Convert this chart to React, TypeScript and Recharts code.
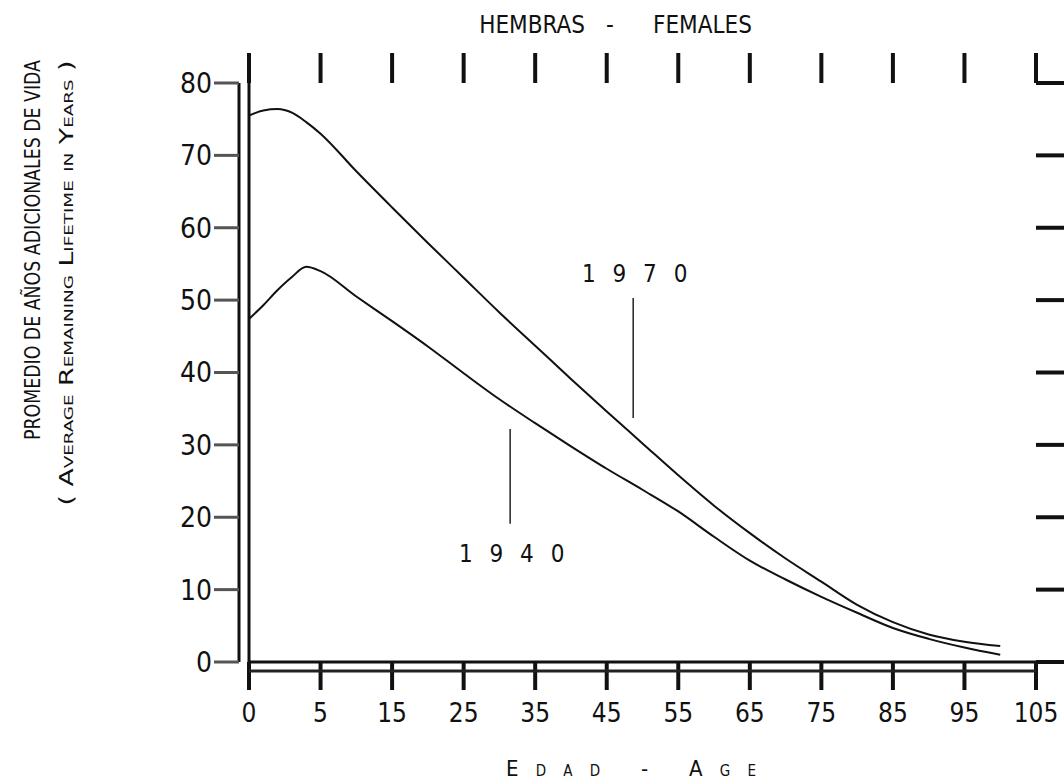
import { LineChart, Line, XAxis, YAxis, ReferenceLine, Customized } from 'recharts'

// edad (años) y promedio de años adicionales de vida, hembras
const ages = [0, 1, 2, 3, 4, 5, 10, 15, 20, 25, 30, 35, 40, 45, 50, 55, 60, 65, 70, 75, 80, 85, 90, 95, 100]
const females1970 = [75.5, 76.2, 76.4, 75.9, 74.6, 73.0, 67.8, 62.8, 57.9, 53.1, 48.3, 43.7, 39.1, 34.6, 30.2, 25.8, 21.6, 17.8, 14.3, 11.1, 7.9, 5.5, 3.8, 2.8, 2.2]
const females1940 = [47.4, 49.3, 51.4, 53.2, 54.6, 54.0, 50.5, 47.1, 43.6, 39.9, 36.3, 33.0, 29.8, 26.7, 23.8, 20.8, 17.3, 14.0, 11.4, 9.0, 6.8, 4.7, 3.2, 2.0, 1.0]

const ageTicks = [0, 5, 15, 25, 35, 45, 55, 65, 75, 85, 95, 105]
const valueTicks = [0, 10, 20, 30, 40, 50, 60, 70, 80]

// leader lines for the year labels: [age, value top, value bottom]
const leader1970 = [48.7, 50.3, 33.7]
const leader1940 = [31.5, 32.2, 19.1]

// the age axis gives 0-5 the same width as each 10-year step
const agePos = (age: number) => (age <= 5 ? age / 5 : 1 + (age - 5) / 10)

const tickPos = ageTicks.map(agePos)
const data = ages.map((a, i) => ({ pos: agePos(a), y1970: females1970[i], y1940: females1940[i] }))

const FONT = '"DejaVu Sans Condensed", "DejaVu Sans", sans-serif'

const YearLabel = ({ viewBox, text, above }: any) => {
  const { x, y, height } = viewBox
  return (
    <text x={x + 4} y={above ? y - 16 : y + height + 38} textAnchor="middle"
      fontFamily={FONT} fontSize={24} fill="#111" letterSpacing={5}>{text}</text>
  )
}

const Titles = () => (
  <g fontFamily={FONT} fill="#111">
    <text x={585} y={33} fontSize={24} textAnchor="end">HEMBRAS</text>
    <text x={610} y={33} fontSize={24} textAnchor="middle">-</text>
    <text x={653} y={33} fontSize={24}>FEMALES</text>
    <text transform="translate(40,250) rotate(-90)" fontSize={21} textAnchor="middle"
      textLength={380} lengthAdjust="spacingAndGlyphs">PROMEDIO DE AÑOS ADICIONALES DE VIDA</text>
    <text transform="translate(73,283) rotate(-90)" fontSize={19} textAnchor="middle"
      style={{ fontVariant: 'small-caps' }} textLength={445} lengthAdjust="spacingAndGlyphs">
      ( Average Remaining Lifetime in Years )
    </text>
    <text x={631} y={776} fontSize={22} textAnchor="middle" style={{ fontVariant: 'small-caps' }}
      textLength={250} lengthAdjust="spacing">Edad - Age</text>
  </g>
)

export default function App() {
  return (
    <div style={{ position: 'absolute', left: 0, top: 0, width: 1064, height: 780, background: '#fff' }}>
      <LineChart width={1064} height={780} data={data} margin={{ top: 53, right: 0, bottom: 108, left: 0 }}>
        <XAxis xAxisId="age" dataKey="pos" type="number" domain={[0, 11]} ticks={tickPos} interval={0}
          height={9} tickSize={28} tickMargin={14}
          axisLine={{ stroke: '#111', strokeWidth: 3 }} tickLine={{ stroke: '#111', strokeWidth: 4 }}
          tick={{ fontSize: 26, fill: '#111', fontFamily: FONT }}
          tickFormatter={(v: number) => String(ageTicks[tickPos.indexOf(v)])} />
        <XAxis xAxisId="age2" dataKey="pos" type="number" domain={[0, 11]} height={1}
          tick={false} tickLine={false} axisLine={{ stroke: '#222', strokeWidth: 3 }} />
        <XAxis xAxisId="top" orientation="top" dataKey="pos" type="number" domain={[0, 11]} ticks={tickPos}
          interval={0} height={30} tickSize={30} axisLine={false}
          tickLine={{ stroke: '#111', strokeWidth: 4 }} tickFormatter={() => ''} />
        <YAxis yAxisId="left" dataKey="y1970" type="number" domain={[0, 80]} allowDataOverflow width={10}
          tick={false} tickLine={false} axisLine={{ stroke: '#111', strokeWidth: 3 }} />
        <YAxis yAxisId="leftOuter" dataKey="y1970" type="number" domain={[0, 80]} allowDataOverflow
          ticks={valueTicks} interval={0} width={239} tickSize={25} tickMargin={2}
          axisLine={{ stroke: '#111', strokeWidth: 3 }} tickLine={{ stroke: '#555', strokeWidth: 3 }}
          tick={{ fontSize: 28, fill: '#111', fontFamily: FONT }} />
        <YAxis yAxisId="right" orientation="right" dataKey="y1970" type="number" domain={[0, 80]}
          allowDataOverflow ticks={valueTicks} interval={0} width={28} tickSize={28} axisLine={false}
          tickLine={{ stroke: '#111', strokeWidth: 4 }} tickFormatter={() => ''} />

        <Line xAxisId="age" yAxisId="left" type="monotone" dataKey="y1970" stroke="#111" strokeWidth={2}
          dot={false} isAnimationActive={false} />
        <Line xAxisId="age" yAxisId="left" type="monotone" dataKey="y1940" stroke="#111" strokeWidth={2}
          dot={false} isAnimationActive={false} />

        <ReferenceLine xAxisId="age" yAxisId="left" stroke="#222" strokeWidth={1.5} ifOverflow="visible"
          segment={[{ x: agePos(leader1970[0]), y: leader1970[1] }, { x: agePos(leader1970[0]), y: leader1970[2] }]}
          label={<YearLabel text="1 9 7 0" above />} />
        <ReferenceLine xAxisId="age" yAxisId="left" stroke="#222" strokeWidth={1.5} ifOverflow="visible"
          segment={[{ x: agePos(leader1940[0]), y: leader1940[1] }, { x: agePos(leader1940[0]), y: leader1940[2] }]}
          label={<YearLabel text="1 9 4 0" />} />

        <Customized component={<Titles />} />
      </LineChart>
    </div>
  )
}
